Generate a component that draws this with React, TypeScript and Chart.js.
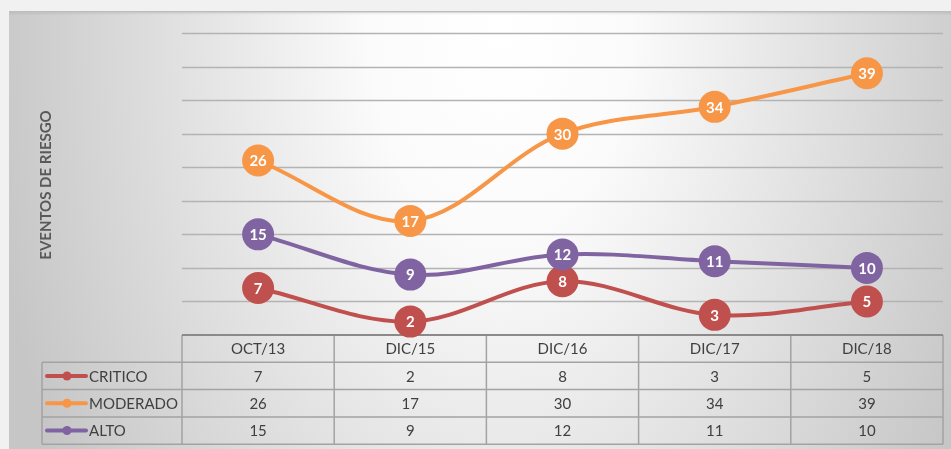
import React, { useEffect, useRef } from "react";
import { Chart, registerables } from "chart.js";

Chart.register(...registerables);

const categories = ["OCT/13", "DIC/15", "DIC/16", "DIC/17", "DIC/18"];
const seriesNames = ["CRITICO", "MODERADO", "ALTO"];
const critico = [7, 2, 8, 3, 5];
const moderado = [26, 17, 30, 34, 39];
const alto = [15, 9, 12, 11, 10];
const seriesColors = ["#C0504D", "#F79646", "#8064A2"];
const yMax = 45;
const yStep = 5;
const axisTitle = "EVENTOS DE RIESGO";

const seriesValues = [critico, moderado, alto];
const FONT = "Lato, 'Open Sans', sans-serif";

const decorPlugin = {
  id: "decor",
  beforeDraw(chart: any) {
    const ctx = chart.ctx as CanvasRenderingContext2D;
    const W = chart.width;
    const H = chart.height;
    ctx.save();
    ctx.fillStyle = "#f1f1f1";
    ctx.fillRect(0, 0, W, H);
    const cx = 500, cy = 30, rx = 520, ry = 820;
    ctx.save();
    ctx.beginPath();
    ctx.rect(9, 11, W - 9, H - 11);
    ctx.clip();
    ctx.translate(cx, cy);
    ctx.scale(1, ry / rx);
    const g = ctx.createRadialGradient(0, 0, 0, 0, 0, rx);
    g.addColorStop(0, "#ffffff");
    g.addColorStop(0.25, "#fbfbfb");
    g.addColorStop(1, "#c6c6c6");
    ctx.fillStyle = g;
    ctx.fillRect(-cx - 10, -cy * rx / ry - 10, W * 2, H * 2);
    ctx.restore();
    ctx.fillStyle = "#bdbdbd";
    ctx.fillRect(9, 11, W - 9, 1.5);
    ctx.fillStyle = "rgba(0,0,0,0.04)";
    ctx.fillRect(9, 12.5, W - 9, 2);
    ctx.restore();
  },
  beforeDatasetsDraw(chart: any) {
    const ctx = chart.ctx as CanvasRenderingContext2D;
    const xs = chart.scales.x;
    const ys = chart.scales.y;
    const area = chart.chartArea;
    const half = (xs.getPixelForValue(1) - xs.getPixelForValue(0)) / 2;
    const bounds: number[] = [];
    for (let i = 0; i < categories.length; i++) bounds.push(xs.getPixelForValue(i) - half);
    bounds.push(xs.getPixelForValue(categories.length - 1) + half);
    const top = area.bottom;
    const rowH = 27.3;
    const legendLeft = 42;
    const bottom = top + rowH * (seriesNames.length + 1);

    ctx.save();
    ctx.strokeStyle = "#b3b3b3";
    ctx.lineWidth = 1.3;
    ctx.beginPath();
    for (let v = yStep; v <= yMax; v += yStep) {
      const y = Math.round(ys.getPixelForValue(v)) + 0.5;
      ctx.moveTo(area.left, y);
      ctx.lineTo(area.right, y);
    }
    ctx.stroke();

    ctx.strokeStyle = "#a3a3a3";
    ctx.lineWidth = 1.5;
    ctx.beginPath();
    for (let r = 1; r <= seriesNames.length + 1; r++) {
      const y = top + rowH * r;
      ctx.moveTo(legendLeft, y);
      ctx.lineTo(bounds[bounds.length - 1], y);
    }
    for (let i = 0; i < bounds.length; i++) {
      ctx.moveTo(bounds[i], top);
      ctx.lineTo(bounds[i], bottom);
    }
    ctx.moveTo(legendLeft, top + rowH);
    ctx.lineTo(legendLeft, bottom);
    ctx.stroke();
    ctx.strokeStyle = "#8a8a8a";
    ctx.lineWidth = 2;
    ctx.beginPath();
    ctx.moveTo(bounds[0], top);
    ctx.lineTo(bounds[bounds.length - 1], top);
    ctx.stroke();

    ctx.fillStyle = "#404040";
    ctx.font = `15px ${FONT}`;
    ctx.textBaseline = "middle";
    ctx.textAlign = "center";
    categories.forEach((c, i) => {
      ctx.fillText(c, xs.getPixelForValue(i), top + rowH / 2 + 1);
    });
    seriesNames.forEach((name, r) => {
      const yc = top + rowH * (r + 1) + rowH / 2 + 1;
      ctx.textAlign = "center";
      ctx.fillStyle = "#404040";
      seriesValues[r].forEach((v, i) => {
        ctx.fillText(String(v), xs.getPixelForValue(i), yc);
      });
      ctx.strokeStyle = seriesColors[r];
      ctx.lineWidth = 4;
      ctx.lineCap = "round";
      ctx.beginPath();
      ctx.moveTo(47, yc - 1);
      ctx.lineTo(86, yc - 1);
      ctx.stroke();
      ctx.fillStyle = seriesColors[r];
      ctx.beginPath();
      ctx.arc(67, yc - 1, 4.5, 0, Math.PI * 2);
      ctx.fill();
      ctx.fillStyle = "#404040";
      ctx.textAlign = "left";
      ctx.fillText(name, 89, yc);
    });

    ctx.save();
    ctx.translate(46, 185);
    ctx.rotate(-Math.PI / 2);
    ctx.font = `bold 15px ${FONT}`;
    ctx.fillStyle = "#595959";
    ctx.textAlign = "center";
    ctx.textBaseline = "middle";
    ctx.fillText(axisTitle, 0, 0);
    ctx.restore();
    ctx.restore();
  },
  afterDatasetsDraw(chart: any) {
    const ctx = chart.ctx as CanvasRenderingContext2D;
    ctx.save();
    ctx.font = `bold 15px ${FONT}`;
    ctx.fillStyle = "#ffffff";
    ctx.textAlign = "center";
    ctx.textBaseline = "middle";
    chart.data.datasets.forEach((ds: any, di: number) => {
      const meta = chart.getDatasetMeta(di);
      meta.data.forEach((pt: any, i: number) => {
        ctx.fillText(String(ds.data[i]), pt.x, pt.y + 1);
      });
    });
    ctx.restore();
  },
};

export default function App() {
  const ref = useRef<HTMLCanvasElement | null>(null);
  useEffect(() => {
    if (!ref.current) return;
    const chart = new Chart(ref.current, {
      type: "line",
      data: {
        labels: categories,
        datasets: seriesNames.map((name, i) => ({
          label: name,
          data: seriesValues[i],
          borderColor: seriesColors[i],
          backgroundColor: seriesColors[i],
          pointBackgroundColor: seriesColors[i],
          pointBorderColor: seriesColors[i],
          pointBorderWidth: 0,
          pointRadius: 16,
          pointHoverRadius: 16,
          borderWidth: 4,
          tension: 0.35,
          fill: false,
          clip: false as any,
          order: seriesNames.length - i,
        })),
      },
      options: {
        animation: false,
        responsive: false,
        maintainAspectRatio: false,
        layout: { autoPadding: false, padding: { left: 182, right: 8, top: 33, bottom: 114 } },
        plugins: {
          legend: { display: false },
          tooltip: { enabled: false },
          title: { display: false },
        },
        scales: {
          x: { type: "category", display: false, offset: true },
          y: { display: false, min: 0, max: yMax, ticks: { stepSize: yStep } },
        },
      },
      plugins: [decorPlugin],
    });
    return () => chart.destroy();
  }, []);
  return (
    <div style={{ position: "fixed", left: 0, top: 0, width: 951, height: 449 }}>
      <canvas ref={ref} width={951} height={449} style={{ display: "block", width: 951, height: 449 }} />
    </div>
  );
}
